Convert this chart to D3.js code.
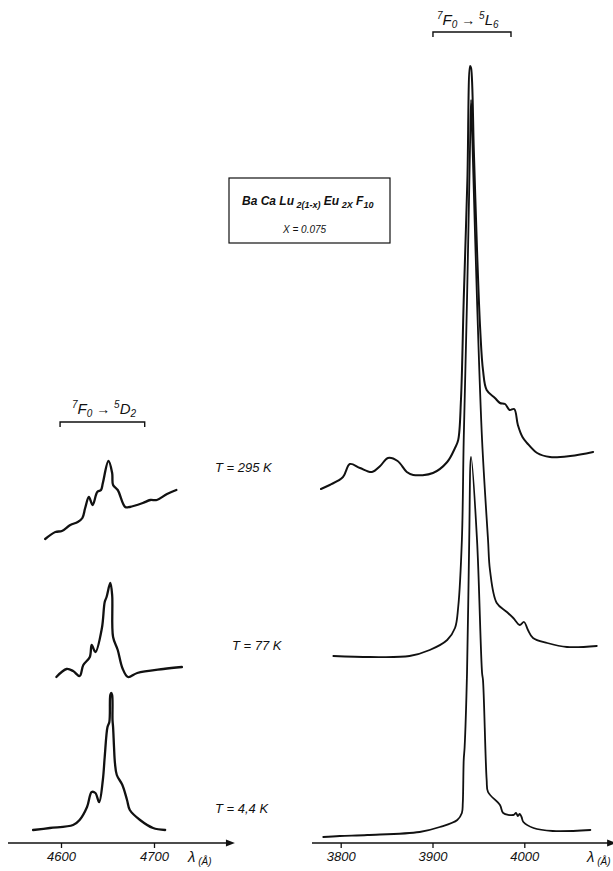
<!DOCTYPE html>
<html>
<head>
<meta charset="utf-8">
<script src="https://cdn.jsdelivr.net/npm/d3@7"></script>
<style>
  body { margin: 0; background: #fff; }
  svg text { font-family: "Liberation Sans", Arial, sans-serif; font-style: italic; fill: #111; }
</style>
</head>
<body>
<script>
// wavelength ticks (Å)
const leftTicks = [4600, 4700];
const rightTicks = [3800, 3900, 4000];
const tempLabels = ["T = 295 K", "T = 77 K", "T = 4,4 K"];

// 7F0 -> 5D2 excitation band, [wavelength Å, intensity arb. units incl. trace offset]
const d2_295K = [[4583,304],[4594,311],[4601,312],[4610,318],[4618,321],[4623,325],[4626,335],[4630,346],
  [4634,338],[4639,351],[4643,353],[4645,360],[4651,382],[4655,370],[4656,358],[4661,353],[4669,336],
  [4674,336],[4688,340],[4696,343],[4703,343],[4714,349],[4724,353]];
const d2_77K = [[4595,166],[4606,174],[4613,172],[4620,167],[4624,178],[4631,186],[4633,198],[4637,191],
  [4644,215],[4647,241],[4649,246],[4653,260],[4655,248],[4656,206],[4661,193],[4666,175],[4672,166],
  [4682,170],[4710,174],[4730,176]];
const d2_4K = [[4570,13],[4588,15],[4613,18],[4620,23],[4628,36],[4633,51],[4637,50],[4641,41],[4645,63],
  [4647,86],[4650,116],[4652,121],[4653,148],[4654,150],[4655,148],[4655.4,123],[4656,116],[4657,96],
  [4658,80],[4660,68],[4666,58],[4671,43],[4674,33],[4685,23],[4699,15],[4712,13]];

// 7F0 -> 5L6 excitation band
const l6_295K = [[3778.5,354],[3788,358],[3802.5,366],[3810,379],[3821,375],[3834,371],[3843,377],
  [3851.5,385],[3862,382],[3872,371],[3879,368],[3900.5,370],[3916,381],[3924.5,395],[3928,403],
  [3931,443],[3934,543],[3938,663],[3941,777],[3942,775],[3945,693],[3948.5,593],[3952,513],[3955,473],
  [3959,453],[3968,445],[3973.5,440],[3979,439],[3984,433],[3989,434],[3993,418],[3998,406],[4003,400],
  [4014,390],[4028,386],[4050,387],[4075,391]];
const l6_77K = [[3792,187],[3832,186],[3875,187],[3897,193],[3916,203],[3924.5,215],[3928,236],[3932,303],
  [3934,403],[3937.6,543],[3940.8,693],[3942,743],[3943.5,700],[3948.5,543],[3954,403],[3960.5,303],
  [3962.6,273],[3970,240],[3981,231],[3988,225],[3995,218],[3999.7,221],[4004,213],[4009.5,205],
  [4025,200],[4046.5,196],[4079,197]];
const l6_4K = [[3781,6],[3799,7],[3829,8],[3886,11],[3908,16],[3927,23],[3932,30],[3933,40],[3934,83],
  [3935,96],[3937.6,170],[3940,303],[3942,386],[3948.5,303],[3954,170],[3955,163],[3959,63],[3960.5,51],
  [3973.5,38],[3977,30],[3988,28],[3991,30],[3993,27],[3995,29],[3997,26],[3999,21],[4010,15],
  [4031,12],[4072,13]];

const width = 613, height = 871;
const axisY = 843;

const svg = d3.select("body").append("svg")
    .attr("width", width)
    .attr("height", height);

// scales
const xLeft = d3.scaleLinear().domain([4600, 4700]).range([61, 154]);
const xRight = d3.scaleLinear().domain([3800, 4000]).range([340.7, 524.3]);
const y = d3.scaleLinear().domain([0, 800]).range([axisY, 43]);

const line = xs => d3.line()
    .x(d => xs(d[0]))
    .y(d => y(d[1]))
    .curve(d3.curveCatmullRom.alpha(0.5));

function drawTrace(xs, data, w) {
    svg.append("path")
        .datum(data)
        .attr("d", line(xs))
        .attr("fill", "none")
        .attr("stroke", "#111")
        .attr("stroke-width", w)
        .attr("stroke-linejoin", "round")
        .attr("stroke-linecap", "round");
}

drawTrace(xLeft, d2_295K, 2.3);
drawTrace(xLeft, d2_77K, 2.3);
drawTrace(xLeft, d2_4K, 2.3);
drawTrace(xRight, l6_295K, 2);
drawTrace(xRight, l6_77K, 1.8);
drawTrace(xRight, l6_4K, 1.8);

// axes with arrows
function drawAxis(xs, extent, ticks, lblX) {
    const g = svg.append("g").attr("transform", `translate(0,${axisY})`);
    g.call(d3.axisBottom(xs).tickValues(ticks).tickSize(5).tickSizeOuter(0).tickFormat(d3.format("d")));
    g.select(".domain").remove();
    g.selectAll(".tick line").attr("stroke", "#111").attr("stroke-width", 1.3);
    g.selectAll(".tick text")
        .attr("y", 9)
        .attr("dy", "0.71em")
        .style("font-size", "13px")
        .style("font-family", "'Liberation Sans', Arial, sans-serif")
        .style("font-style", "italic")
        .attr("fill", "#111");
    const x0 = xs(extent[0]), x1 = xs(extent[1]);
    g.append("line")
        .attr("x1", x0).attr("x2", x1 - 6)
        .attr("y1", 0).attr("y2", 0)
        .attr("stroke", "#111").attr("stroke-width", 1.5);
    g.append("path")
        .attr("d", `M${x1},0 L${x1 - 9},-3.5 L${x1 - 9},3.5 Z`)
        .attr("fill", "#111");
    const lbl = svg.append("text")
        .attr("x", lblX).attr("y", axisY + 19)
        .style("font-size", "15px");
    lbl.append("tspan").text("λ");
    lbl.append("tspan").attr("dy", 3).style("font-size", "10px").text(" (Å)");
}

drawAxis(xLeft, [4543, 4787], leftTicks, 188);
drawAxis(xRight, [3768.7, 4100], rightTicks, 587);

// transition brackets
function bracket(xs, a, b, yy, lx, ly, term, sub) {
    svg.append("path")
        .attr("d", `M${xs(a)},${yy + 5} L${xs(a)},${yy} L${xs(b)},${yy} L${xs(b)},${yy + 5}`)
        .attr("fill", "none").attr("stroke", "#111").attr("stroke-width", 1.4);
    const t = svg.append("text").attr("x", lx).attr("y", ly).style("font-size", "15px");
    t.append("tspan").attr("dy", -6).style("font-size", "10px").text("7");
    t.append("tspan").attr("dy", 6).text("F");
    t.append("tspan").attr("dy", 3).style("font-size", "10px").text("0");
    t.append("tspan").attr("dy", -3).style("font-size", "14px").style("font-style", "normal").text(" → ");
    t.append("tspan").attr("dy", -6).style("font-size", "10px").text("5");
    t.append("tspan").attr("dy", 6).text(term);
    t.append("tspan").attr("dy", 3).style("font-size", "10px").text(sub);
}

bracket(xLeft, 4599, 4690, 422, 72, 414, "D", "2");
bracket(xRight, 3900.5, 3985.5, 32, 437, 25, "L", "6");

// compound box
svg.append("rect")
    .attr("x", 229).attr("y", 178)
    .attr("width", 161).attr("height", 65)
    .attr("fill", "none").attr("stroke", "#111").attr("stroke-width", 1.2);

const title = svg.append("text")
    .attr("x", 242).attr("y", 205)
    .style("font-size", "12px")
    .style("font-weight", "bold");
title.append("tspan").text("Ba Ca Lu");
title.append("tspan").attr("dy", 3).style("font-size", "9px").text(" 2(1-x)");
title.append("tspan").attr("dy", -3).text(" Eu");
title.append("tspan").attr("dy", 3).style("font-size", "9px").text(" 2X");
title.append("tspan").attr("dy", -3).text(" F");
title.append("tspan").attr("dy", 3).style("font-size", "9px").text("10");

svg.append("text")
    .attr("x", 283).attr("y", 233)
    .style("font-size", "10px")
    .text("X = 0.075");

// temperature labels
const tempPos = [[215, 472], [232, 650], [215, 813]];
svg.selectAll(".temp")
    .data(tempLabels)
    .enter()
    .append("text")
    .attr("class", "temp")
    .attr("x", (d, i) => tempPos[i][0])
    .attr("y", (d, i) => tempPos[i][1])
    .style("font-size", "13px")
    .text(d => d);
</script>
</body>
</html>
